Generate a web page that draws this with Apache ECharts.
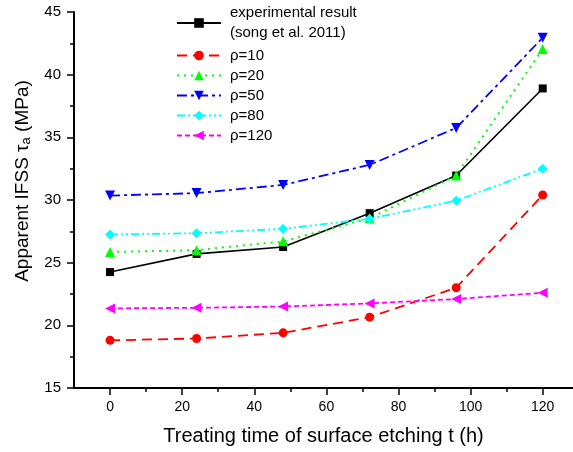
<!DOCTYPE html>
<html>
<head>
<meta charset="utf-8">
<script src="https://cdn.jsdelivr.net/npm/echarts@6/dist/echarts.min.js"></script>
<style>html,body{margin:0;padding:0;background:#fff}#c{width:573px;height:452px}</style>
</head>
<body>
<div id="c"></div>
<script>
const times = [0, 24, 48, 72, 96, 120];
const expName = 'experimental result\n(song et al. 2011)';
const expVals = [24.25, 25.7, 26.25, 28.95, 31.95, 38.9];
const rho10 = [18.8, 18.95, 19.4, 20.65, 23.0, 30.4];
const rho20 = [25.85, 26.0, 26.7, 28.55, 31.95, 42.05];
const rho50 = [30.35, 30.55, 31.2, 32.8, 35.75, 42.95];
const rho80 = [27.25, 27.35, 27.7, 28.5, 29.95, 32.5];
const rho120 = [21.35, 21.4, 21.5, 21.75, 22.1, 22.6];
const xMajorTicks = [0, 20, 40, 60, 80, 100, 120];
const xMinorTicks = [10, 30, 50, 70, 90, 110];

function pairs(vals) { return times.map((t, i) => [t, vals[i]]); }

const font = 'Arial, "Liberation Sans", sans-serif';
const chart = echarts.init(document.getElementById('c'), null, {renderer: 'canvas'});

function mk(name, vals, color, type, symbol, size, width) {
  return {
    name: name, type: 'line', xAxisIndex: 0, yAxisIndex: 0,
    data: pairs(vals), symbol: symbol, symbolSize: size,
    lineStyle: {color: color, width: width, type: type},
    itemStyle: {color: color},
    emphasis: {disabled: true}, animation: false
  };
}

const series = [
  mk(expName, expVals, '#000000', 'solid', 'rect', 8, 1.6),
  mk('ρ=10', rho10, '#ff0000', [10, 6], 'circle', 9, 1.8),
  mk('ρ=20', rho20, '#00ff00', [2, 5], 'triangle', 10, 2),
  mk('ρ=50', rho50, '#0000ff', [10, 4, 3, 4], 'path://M0,0 L10,0 L5,9 Z', 10, 1.8),
  mk('ρ=80', rho80, '#00ffff', [8, 3, 2, 3, 2, 3], 'diamond', 10, 1.8),
  mk('ρ=120', rho120, '#ff00ff', [5, 3], 'path://M0,5 L9,0 L9,10 Z', 10, 1.8)
];

const option = {
  backgroundColor: '#ffffff',
  animation: false,
  grid: {left: 74, right: 0, top: 12, bottom: 64, containLabel: false},
  legend: {
    orient: 'vertical', left: 176, top: 3, padding: 0,
    itemWidth: 44, itemHeight: 12, itemGap: 5,
    selectedMode: false,
    textStyle: {fontFamily: font, fontSize: 15, color: '#000', padding: [0, 0, 0, 4], lineHeight: 15},
    data: [
      {name: expName, textStyle: {lineHeight: 20}},
      'ρ=10', 'ρ=20', 'ρ=50', 'ρ=80', 'ρ=120'
    ]
  },
  xAxis: [{
    type: 'value', min: -10, max: 128.4,
    name: 'Treating time of surface etching t (h)',
    nameLocation: 'middle', nameGap: 38,
    nameTextStyle: {fontFamily: font, fontSize: 20, color: '#000'},
    axisLine: {show: true, onZero: false, lineStyle: {color: '#000', width: 2}},
    axisTick: {show: true, length: 7, lineStyle: {color: '#000', width: 1.5}, customValues: xMajorTicks},
    axisLabel: {show: true, margin: 12, fontFamily: font, fontSize: 14, color: '#000', customValues: xMajorTicks},
    splitLine: {show: false}
  }, {
    type: 'value', min: -10, max: 128.4, position: 'bottom',
    axisLine: {show: false},
    axisTick: {show: true, length: 4, lineStyle: {color: '#000', width: 1.5}, customValues: xMinorTicks},
    axisLabel: {show: false},
    splitLine: {show: false}
  }],
  yAxis: {
    type: 'value', min: 15, max: 45, interval: 5,
    name: 'Apparent IFSS τ{s|a} (MPa)',
    nameLocation: 'middle', nameGap: 38, nameRotate: 90,
    nameTextStyle: {fontFamily: font, fontSize: 19, color: '#000', padding: [0, 0, 0, 38],
      rich: {s: {fontFamily: font, fontSize: 13, color: '#000', padding: [9, 0, 0, 0]}}},
    axisLine: {show: true, onZero: false, lineStyle: {color: '#000', width: 2}},
    axisTick: {show: true, length: 7, lineStyle: {color: '#000', width: 1.5}},
    minorTick: {show: true, splitNumber: 2, length: 4, lineStyle: {color: '#000', width: 1.5}},
    axisLabel: {margin: 13, fontFamily: font, fontSize: 15, color: '#000'},
    splitLine: {show: false}, minorSplitLine: {show: false}
  },
  series: series
};
chart.setOption(option);
</script>
</body>
</html>
